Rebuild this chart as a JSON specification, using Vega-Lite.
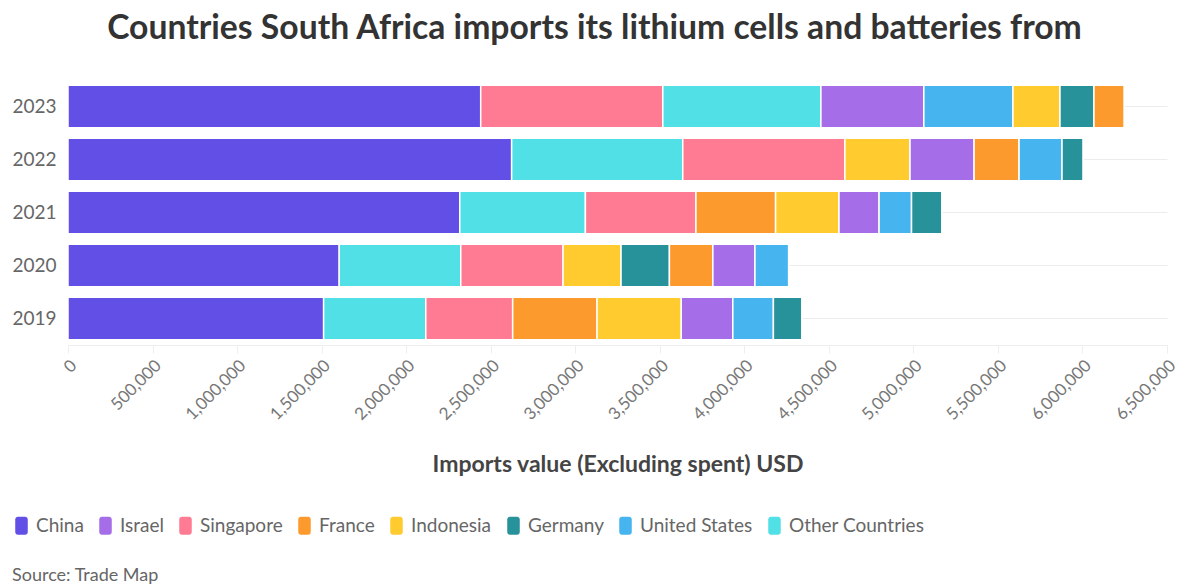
{
  "$schema": "https://vega.github.io/schema/vega-lite/v6.json",
  "width": 1099,
  "height": 265,
  "autosize": {"type": "none"},
  "padding": {"left": 68, "top": 80, "right": 15, "bottom": 241},
  "background": "#ffffff",
  "title": {
    "text": "Countries South Africa imports its lithium cells and batteries from",
    "font": "Lato",
    "fontSize": 33.7,
    "fontWeight": "bold",
    "color": "#333333",
    "anchor": "middle",
    "dx": -23,
    "offset": 34
  },
  "data": {
    "values": [
      {"year": "2023", "country": "China", "value": 2441000},
      {"year": "2023", "country": "Singapore", "value": 1077000},
      {"year": "2023", "country": "Other Countries", "value": 935000},
      {"year": "2023", "country": "Israel", "value": 609000},
      {"year": "2023", "country": "United States", "value": 527000},
      {"year": "2023", "country": "Indonesia", "value": 278000},
      {"year": "2023", "country": "Germany", "value": 201000},
      {"year": "2023", "country": "France", "value": 178000},
      {"year": "2022", "country": "China", "value": 2624000},
      {"year": "2022", "country": "Other Countries", "value": 1012000},
      {"year": "2022", "country": "Singapore", "value": 959000},
      {"year": "2022", "country": "Indonesia", "value": 385000},
      {"year": "2022", "country": "Israel", "value": 379000},
      {"year": "2022", "country": "France", "value": 266000},
      {"year": "2022", "country": "United States", "value": 254000},
      {"year": "2022", "country": "Germany", "value": 124000},
      {"year": "2021", "country": "China", "value": 2317000},
      {"year": "2021", "country": "Other Countries", "value": 743000},
      {"year": "2021", "country": "Singapore", "value": 654000},
      {"year": "2021", "country": "France", "value": 471000},
      {"year": "2021", "country": "Indonesia", "value": 375000},
      {"year": "2021", "country": "Israel", "value": 237000},
      {"year": "2021", "country": "United States", "value": 192000},
      {"year": "2021", "country": "Germany", "value": 179000},
      {"year": "2020", "country": "China", "value": 1604000},
      {"year": "2020", "country": "Other Countries", "value": 719000},
      {"year": "2020", "country": "Singapore", "value": 605000},
      {"year": "2020", "country": "Indonesia", "value": 343000},
      {"year": "2020", "country": "Germany", "value": 286000},
      {"year": "2020", "country": "France", "value": 257000},
      {"year": "2020", "country": "Israel", "value": 249000},
      {"year": "2020", "country": "United States", "value": 199000},
      {"year": "2019", "country": "China", "value": 1512000},
      {"year": "2019", "country": "Other Countries", "value": 604000},
      {"year": "2019", "country": "Singapore", "value": 514000},
      {"year": "2019", "country": "France", "value": 499000},
      {"year": "2019", "country": "Indonesia", "value": 498000},
      {"year": "2019", "country": "Israel", "value": 305000},
      {"year": "2019", "country": "United States", "value": 240000},
      {"year": "2019", "country": "Germany", "value": 168000}
    ]
  },
  "mark": {"type": "bar", "stroke": "#ffffff", "strokeWidth": 1.5},
  "encoding": {
    "y": {
      "field": "year",
      "type": "ordinal",
      "sort": "descending",
      "scale": {"paddingInner": 0.2, "paddingOuter": 0.1},
      "axis": {
        "title": null,
        "domain": false,
        "ticks": false,
        "grid": true,
        "gridColor": "#ececec",
        "gridWidth": 1,
        "labelFont": "Lato",
        "labelFontSize": 19,
        "labelColor": "#666666",
        "labelPadding": 12
      }
    },
    "x": {
      "field": "value",
      "type": "quantitative",
      "stack": "zero",
      "scale": {"domain": [0, 6500000], "nice": false},
      "axis": {
        "title": "Imports value (Excluding spent) USD",
        "titleFont": "Lato",
        "titleFontSize": 23,
        "titleFontWeight": "bold",
        "titleColor": "#444444",
        "titlePadding": 31,
        "values": [0, 500000, 1000000, 1500000, 2000000, 2500000, 3000000, 3500000, 4000000, 4500000, 5000000, 5500000, 6000000, 6500000],
        "format": ",.0f",
        "labelAngle": -45,
        "labelFont": "Lato",
        "labelFontSize": 17,
        "labelColor": "#777777",
        "labelPadding": 4,
        "grid": false,
        "domain": true,
        "domainColor": "#eeeeee",
        "ticks": true,
        "tickColor": "#eeeeee",
        "tickSize": 8
      }
    },
    "color": {
      "field": "country",
      "type": "nominal",
      "scale": {
        "domain": ["China", "Israel", "Singapore", "France", "Indonesia", "Germany", "United States", "Other Countries"],
        "range": ["#614fe6", "#a56ee8", "#ff7b93", "#fd9a2e", "#ffcb2f", "#27929a", "#46b4ee", "#52e0e7"]
      },
      "legend": {
        "orient": "none",
        "legendX": -56,
        "legendY": 436,
        "direction": "horizontal",
        "title": "Source: Trade Map",
        "titleOrient": "bottom",
        "titleAnchor": "start",
        "titleFont": "Lato",
        "titleFontSize": 18,
        "titleFontWeight": "normal",
        "titleColor": "#666666",
        "titlePadding": 31,
        "labelFont": "Lato",
        "labelFontSize": 19,
        "labelColor": "#666666",
        "labelOffset": 5,
        "columnPadding": 12,
        "symbolType": "M-0.4,-1H0.4A0.3,0.3,0,0,1,0.7,-0.7V0.7A0.3,0.3,0,0,1,0.4,1H-0.4A0.3,0.3,0,0,1,-0.7,0.7V-0.7A0.3,0.3,0,0,1,-0.4,-1Z",
        "symbolSize": 320,
        "symbolStrokeWidth": 0,
        "symbolOpacity": 1
      }
    },
    "order": {"field": "value", "type": "quantitative", "sort": "descending"}
  },
  "config": {"view": {"stroke": null}}
}
